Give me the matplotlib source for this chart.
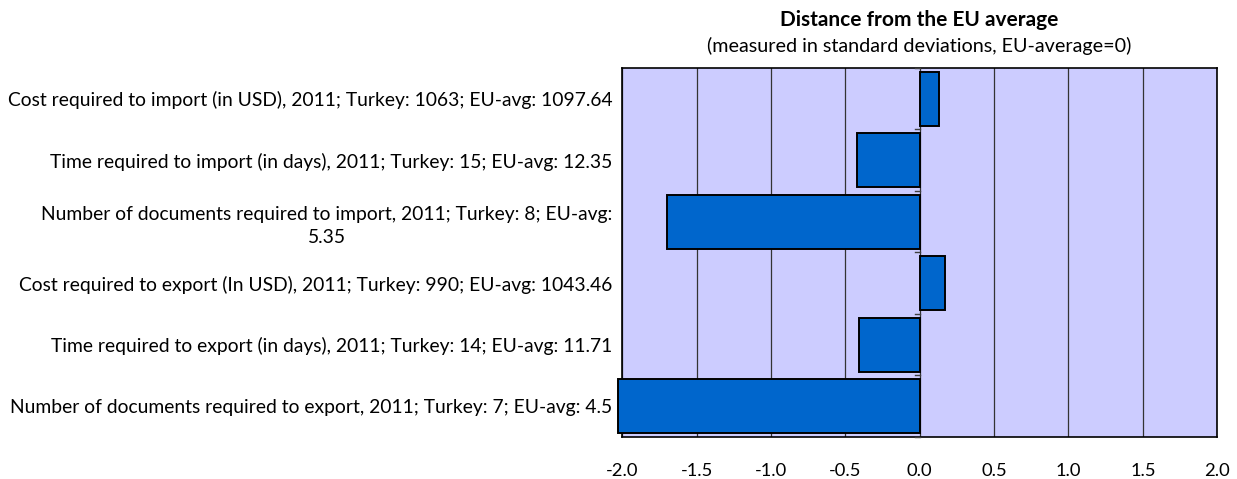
import matplotlib.pyplot as plt
import numpy as np

plt.rcParams['font.family'] = ['Lato', 'DejaVu Sans']

labels = [
    'Cost required to import (in USD), 2011; Turkey: 1063; EU-avg: 1097.64',
    'Time required to import (in days), 2011; Turkey: 15; EU-avg: 12.35',
    'Number of documents required to import, 2011; Turkey: 8; EU-avg:\n5.35',
    'Cost required to export (In USD), 2011; Turkey: 990; EU-avg: 1043.46',
    'Time required to export (in days), 2011; Turkey: 14; EU-avg: 11.71',
    'Number of documents required to export, 2011; Turkey: 7; EU-avg: 4.5',
]
distance = [0.13, -0.42, -1.70, 0.17, -0.41, -2.03]
xticks = [-2.0, -1.5, -1.0, -0.5, 0.0, 0.5, 1.0, 1.5, 2.0]

fig = plt.figure(figsize=(12.37, 4.79), dpi=100)
ax = fig.add_axes([0.503, 0.088, 0.481, 0.770])
ax.set_facecolor('#CCCCFF')

ypos = np.arange(len(labels))
ax.barh(ypos, distance, height=0.88, color='#0066CC', edgecolor='black',
        linewidth=1.4, zorder=3, clip_on=False)

ax.set_xlim(-2.0, 2.0)
ax.set_ylim(len(labels) - 0.5, -0.5)
ax.set_xticks(xticks)
ax.set_xticklabels(['%.1f' % v for v in xticks], fontsize=13.2)
ax.tick_params(axis='x', length=0, pad=19)
ax.grid(axis='x', color='#333333', linewidth=0.9, zorder=1)

ax.set_yticks(ypos)
ax.set_yticklabels(labels, fontsize=13.9, multialignment='center',
                   linespacing=1.4)
ax.tick_params(axis='y', length=0, pad=7)

# small category tick marks on the zero line
for b in np.arange(-0.5, len(labels), 1.0):
    ax.plot([-0.03, 0], [b, b], color='#404040', linewidth=1.0, zorder=4,
            clip_on=False)

for s in ax.spines.values():
    s.set_linewidth(1.2)
    s.set_color('black')

fig.text(0.743, 0.958, 'Distance from the EU average', ha='center', va='center',
         fontsize=15, fontweight='bold')
fig.text(0.743, 0.903, '(measured in standard deviations, EU-average=0)',
         ha='center', va='center', fontsize=14.2)

fig.savefig('out.png', dpi=100)
